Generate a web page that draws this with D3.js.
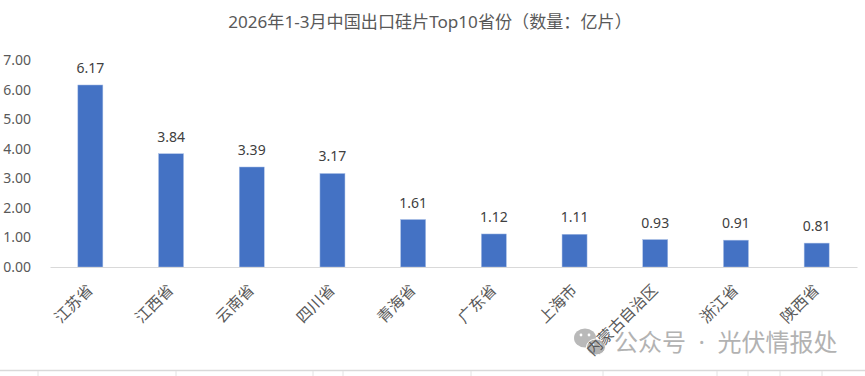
<!DOCTYPE html>
<html>
<head>
<meta charset="utf-8">
<script src="https://cdn.jsdelivr.net/npm/d3@7"></script>
<style>
  html, body { margin: 0; padding: 0; background: #fff; }
  svg { display: block; }
  text { font-family: "Noto Sans", "Noto Sans CJK SC", sans-serif; }
</style>
</head>
<body>
<script>
// Data
const provinces = ["江苏省", "江西省", "云南省", "四川省", "青海省", "广东省", "上海市", "内蒙古自治区", "浙江省", "陕西省"];
const amounts = [6.17, 3.84, 3.39, 3.17, 1.61, 1.12, 1.11, 0.93, 0.91, 0.81];
const yTicks = [0, 1, 2, 3, 4, 5, 6, 7];
const chartTitle = "2026年1-3月中国出口硅片Top10省份（数量：亿片）";
const watermark = "公众号  ·  光伏情报处";
// Spreadsheet cell borders showing under the screenshot
const cellEdges = [38, 176, 313, 343, 471, 603, 717, 748, 780, 822];

const width = 865;
const height = 376;
const margin = { top: 60.5, right: 8, bottom: 109, left: 50 };

const svg = d3.select("body")
    .append("svg")
    .attr("width", width)
    .attr("height", height);

const xScale = d3.scaleBand()
    .domain(provinces)
    .range([margin.left, width - margin.right])
    .paddingInner(0.69)
    .paddingOuter(0.345);

const yScale = d3.scaleLinear()
    .domain([0, 7])
    .range([height - margin.bottom, margin.top]);

// Title
svg.append("text")
    .attr("x", 430)
    .attr("y", 28)
    .attr("text-anchor", "middle")
    .style("font-size", "17.1px")
    .style("fill", "#595959")
    .text(chartTitle);

// Y axis, labels only
const yAxis = d3.axisLeft(yScale)
    .tickValues(yTicks)
    .tickFormat(d3.format(".2f"))
    .tickSize(0)
    .tickPadding(0);

const yG = svg.append("g")
    .attr("transform", `translate(31,0)`)
    .call(yAxis);
yG.select(".domain").remove();
yG.selectAll("text")
    .attr("text-anchor", "end")
    .style("font-size", "14px")
    .style("fill", "#595959");

// Bars
svg.selectAll(".bar")
    .data(provinces)
    .enter()
    .append("rect")
    .attr("class", "bar")
    .attr("x", d => xScale(d))
    .attr("y", (d, i) => yScale(amounts[i]))
    .attr("width", xScale.bandwidth())
    .attr("height", (d, i) => yScale(0) - yScale(amounts[i]))
    .style("fill", "#4472c4")
    .style("stroke", "#a9bfe6")
    .style("stroke-width", 0.5);

// Value labels
svg.selectAll(".value")
    .data(provinces)
    .enter()
    .append("text")
    .attr("class", "value")
    .attr("x", d => xScale(d) + xScale.bandwidth() / 2)
    .attr("y", (d, i) => yScale(amounts[i]) - 12)
    .attr("text-anchor", "middle")
    .style("font-size", "14px")
    .style("fill", "#404040")
    .text((d, i) => d3.format(".2f")(amounts[i]));

// Watermark, the province label stays readable on top of it
const mark = svg.append("g").attr("opacity", 0.8);
mark.append("ellipse")
    .attr("cx", 585).attr("cy", 338).attr("rx", 11).attr("ry", 9.5)
    .style("fill", "#a8a8a8");
mark.append("ellipse")
    .attr("cx", 596).attr("cy", 347).attr("rx", 9.5).attr("ry", 8)
    .style("fill", "#a0a0a0")
    .style("stroke", "#fff")
    .style("stroke-width", 1);
mark.selectAll(".eye")
    .data([[581, 335], [589, 335], [593, 345], [600, 345]])
    .enter()
    .append("circle")
    .attr("class", "eye")
    .attr("cx", d => d[0]).attr("cy", d => d[1])
    .attr("r", 1.4)
    .style("fill", "#fff");
mark.append("text")
    .attr("x", 614)
    .attr("y", 351)
    .style("font-size", "24px")
    .style("white-space", "pre")
    .style("fill", "#a0a0a0")
    .text(watermark);

// X axis
const xAxis = d3.axisBottom(xScale).tickSize(0).tickPadding(0);
const xG = svg.append("g")
    .attr("transform", `translate(0,${yScale(0)})`)
    .call(xAxis);
xG.select(".domain")
    .style("stroke", "#d9d9d9")
    .style("stroke-width", 1.2);
xG.selectAll("text")
    .attr("text-anchor", "end")
    .attr("dy", 0)
    .attr("transform", d => `translate(${xScale.bandwidth() / 2 - 9},24) rotate(-45)`)
    .style("font-size", "15.5px")
    .style("fill", "#595959");

// Sheet border at the bottom
svg.append("line")
    .attr("x1", 0).attr("x2", width)
    .attr("y1", 370.5).attr("y2", 370.5)
    .style("stroke", "#d9d9d9")
    .style("stroke-width", 1.5);
svg.selectAll(".cell-edge")
    .data(cellEdges)
    .enter()
    .append("line")
    .attr("class", "cell-edge")
    .attr("x1", d => d).attr("x2", d => d)
    .attr("y1", 371).attr("y2", height)
    .style("stroke", "#e2e2e2");
</script>
</body>
</html>
